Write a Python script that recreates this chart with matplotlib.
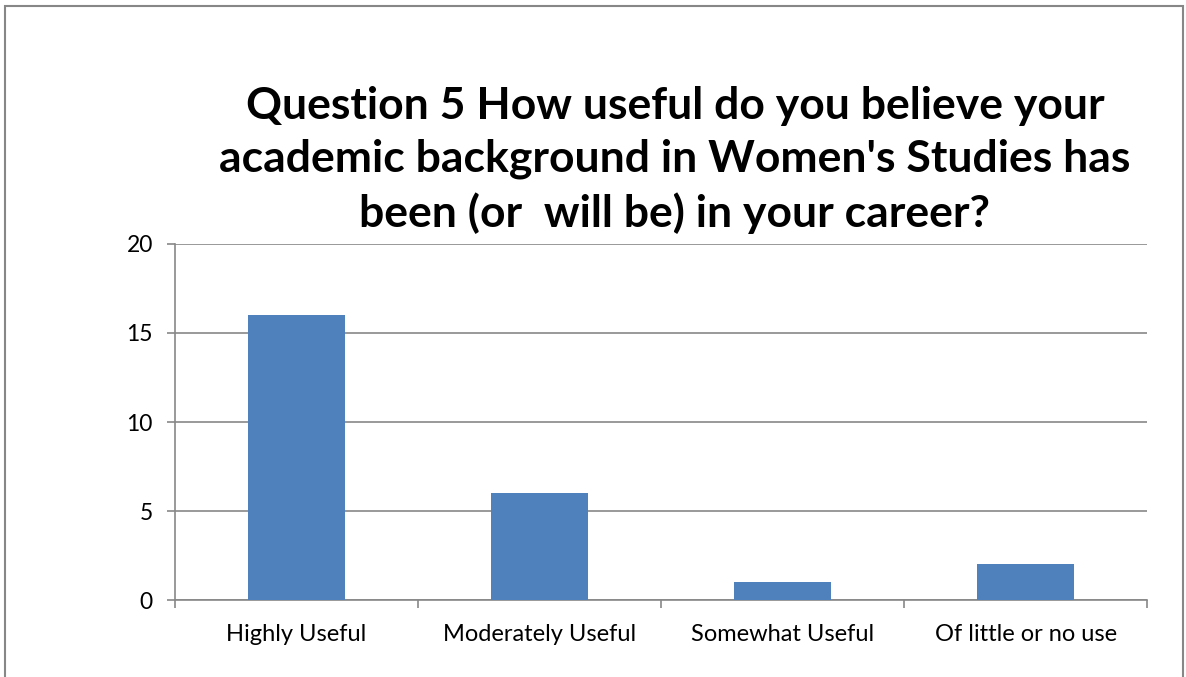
import matplotlib
matplotlib.use("Agg")
import matplotlib.pyplot as plt
from matplotlib.patches import Rectangle

categories = ["Highly Useful", "Moderately Useful", "Somewhat Useful", "Of little or no use"]
counts = [16, 6, 1, 2]
y_ticks = [0, 5, 10, 15, 20]

title = ("Question 5 How useful do you believe your\n"
         "academic background in Women's Studies has\n"
         "been (or  will be) in your career?")

plt.rcParams['font.family'] = ['Lato', 'DejaVu Sans']

fig = plt.figure(figsize=(11.86, 6.77), dpi=100)
ax = fig.add_axes([0.1476, 0.1137, 0.8196, 0.5259])

grey = "#878787"

# bars, one per answer
ax.bar(range(len(categories)), counts, width=0.4, color="#4F81BD", zorder=3)

ax.set_xlim(-0.5, len(categories) - 0.5)
ax.set_ylim(0, 20)
ax.set_yticks(y_ticks)
ax.set_yticklabels([str(v) for v in y_ticks], fontsize=16.5)
ax.yaxis.grid(True, color=grey, linewidth=1.2, zorder=0)

# category labels centred, tick marks on the boundaries
ax.set_xticks(range(len(categories)))
ax.set_xticklabels(categories, fontsize=17)
ax.tick_params(axis='x', length=0, pad=17)
ax.set_xticks([i - 0.5 for i in range(len(categories) + 1)], minor=True)
ax.tick_params(axis='x', which='minor', length=6, width=1.2, color=grey, direction='out')
ax.tick_params(axis='y', length=6, width=1.2, color=grey, direction='out', pad=10)

for side in ['top', 'right']:
    ax.spines[side].set_visible(False)
for side in ['left', 'bottom']:
    ax.spines[side].set_color(grey)
    ax.spines[side].set_linewidth(1.2)

fig.text(0.569, 0.764, title, ha='center', va='center', fontsize=32,
         fontweight='bold', linespacing=1.39)

# chart frame
fig.patches.append(Rectangle((5 / 1186, -0.05), 1178 / 1186, 1.05 - 6 / 677,
                             transform=fig.transFigure, fill=False,
                             edgecolor=grey, linewidth=1.5))

fig.savefig("out.png", dpi=100)
